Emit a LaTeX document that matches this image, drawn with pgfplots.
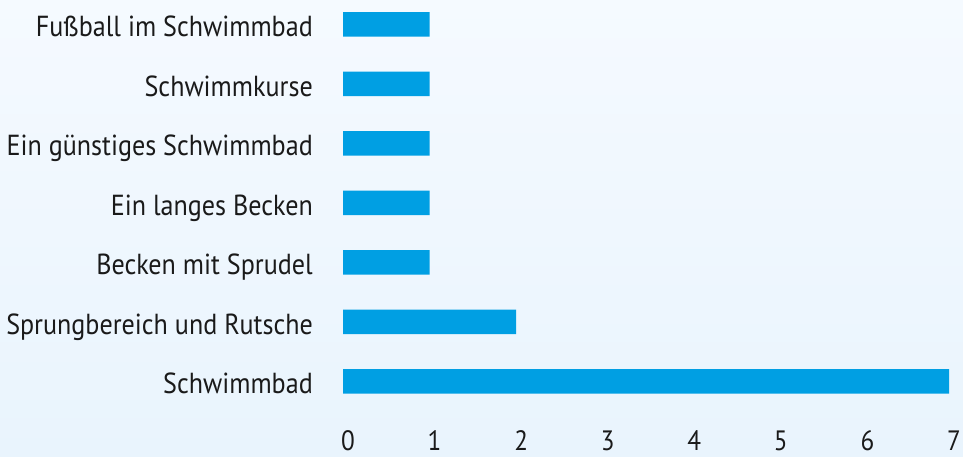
\documentclass[border=0pt]{standalone}
\usepackage{pgfplots}
\pgfplotsset{compat=1.18}
\usepackage{fontspec}
\setmainfont{PT Sans}[FakeStretch=0.9]
\usetikzlibrary{backgrounds}
\definecolor{barblue}{HTML}{009FE3}
\definecolor{bgtop}{HTML}{F5FAFF}
\definecolor{bgbot}{HTML}{E9F4FD}
\definecolor{txt}{HTML}{1A1A1A}
\begin{document}
\begin{tikzpicture}
\begin{axis}[
  name=ax, at={(343pt,45pt)}, anchor=south west,
  scale only axis, width=606pt, height=416.5pt,
  xbar, bar width=24.5pt,
  xmin=0, xmax=7, ymin=-0.5, ymax=6.5,
  axis lines=none,
  xtick={0,1,2,3,4,5,6,7},
  ytick={0,1,2,3,4,5,6},
  yticklabels={Schwimmbad,Sprungbereich und Rutsche,Becken mit Sprudel,Ein langes Becken,Ein günstiges Schwimmbad,Schwimmkurse,Fußball im Schwimmbad},
  major tick length=0pt,
  tick style={draw=none},
  hide x axis=false, hide y axis=false,
  axis line style={draw=none},
  /pgf/number format/assume math mode=true,
  yticklabel style={font=\fontsize{29}{34}\selectfont, text=txt, anchor=base east, inner sep=0pt, xshift=-30pt, yshift=-12.5pt},
  xticklabel style={font=\fontsize{28}{33}\selectfont, text=txt, anchor=base, inner sep=0pt, yshift=-39pt, xshift=5pt},
]
\addplot[fill=barblue, draw=none] coordinates {
(7,0) (2,1) (1,2) (1,3) (1,4) (1,5) (1,6)};
\end{axis}
\begin{pgfonlayer}{background}
\shade[top color=bgtop, bottom color=bgbot] (0,0) rectangle (963pt,456pt);
\end{pgfonlayer}
\pgfresetboundingbox
\useasboundingbox (0,0) rectangle (963pt,456pt);
\end{tikzpicture}
\end{document}
